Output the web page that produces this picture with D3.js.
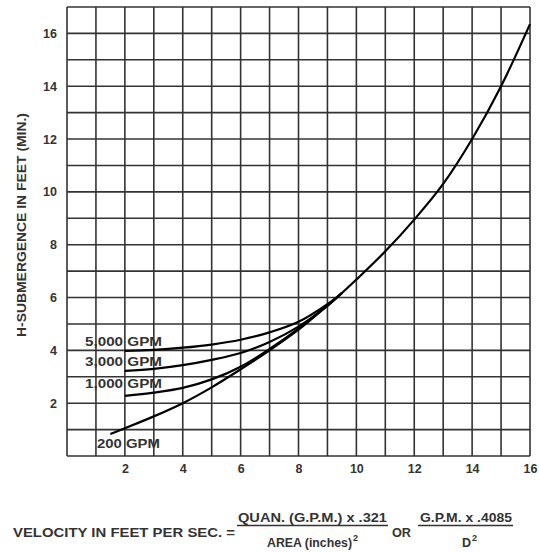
<!DOCTYPE html>
<html><head><meta charset="utf-8">
<script src="https://cdn.jsdelivr.net/npm/d3@7"></script>
<style>
body{margin:0;background:#fff;}
text{font-family:"Liberation Sans",Arial,Helvetica,sans-serif;font-weight:bold;fill:#333;}
</style>
</head><body><svg id="c" width="539" height="552"></svg>
<script>
// ---- data ----
const xTickValues = [2,4,6,8,10,12,14,16];
const yTickValues = [2,4,6,8,10,12,14,16];
const seriesLabels = ["5,000 GPM","3,000 GPM","1,000 GPM","200 GPM"];
const gpm5000 = [[2,3.98],[3,4.02],[4,4.1],[5,4.22],[6,4.4],[7,4.68],[8,5.08],[9,5.75],[9.5,6.17]];
const gpm3000 = [[2,3.22],[3,3.3],[4,3.44],[5,3.64],[6,3.9],[7,4.32],[8,4.9],[9,5.68],[9.5,6.17]];
const gpm1000 = [[2,2.28],[3,2.4],[4,2.58],[5,2.9],[6,3.38],[7,4.05],[8,4.82],[9,5.7],[9.5,6.17]];
const gpm200  = [[1.5,0.83],[2,1.05],[3,1.5],[4,2.0],[5,2.6],[6,3.28],[7,4.0],[8,4.78],[9,5.7],[9.5,6.17],[10,6.68],[11,7.75],[12,8.95],[13,10.3],[14,12.0],[15,14.0],[16,16.35]];
const yTitle = "H-SUBMERGENCE IN FEET (MIN.)";
const formulaLead = "VELOCITY IN FEET PER SEC. =";
const frac1Num = "QUAN. (G.P.M.) x .321", frac1Den = "AREA (inches)";
const formulaOr = "OR";
const frac2Num = "G.P.M. x .4085", frac2Den = "D";

// ---- layout ----
const svg = d3.select("#c");
const x = d3.scaleLinear([0,16],[67,530]);
const y = d3.scaleLinear([0,17],[456,7]);
const gridColor = "#333";

// grid
const g = svg.append("g");
g.selectAll("line.v").data(d3.range(0,17)).join("line")
  .attr("x1",d=>x(d)).attr("x2",d=>x(d)).attr("y1",y(0)).attr("y2",y(17))
  .attr("stroke",gridColor).attr("stroke-width",1.6);
g.selectAll("line.h").data(d3.range(0,18)).join("line")
  .attr("y1",d=>y(d)).attr("y2",d=>y(d)).attr("x1",x(0)).attr("x2",x(16))
  .attr("stroke",gridColor).attr("stroke-width",1.6);

// axes (labels only)
const ax = svg.append("g").attr("transform",`translate(0,${y(0)})`)
  .call(d3.axisBottom(x).tickValues(xTickValues).tickSize(0).tickPadding(8).tickFormat(d3.format("d")));
const ay = svg.append("g").attr("transform",`translate(${x(0)},0)`)
  .call(d3.axisLeft(y).tickValues(yTickValues).tickSize(0).tickPadding(10).tickFormat(d3.format("d")));
[ax,ay].forEach(a=>{
  a.select(".domain").remove();
  a.selectAll("text").attr("font-size",12.5).attr("fill","#333")
    .attr("font-family",'"Liberation Sans",Arial,sans-serif').attr("font-weight","bold");
});

// curves
const line = d3.line().x(d=>x(d[0])).y(d=>y(d[1])).curve(d3.curveCatmullRom.alpha(0.5));
[gpm5000,gpm3000,gpm1000,gpm200].forEach(s=>{
  svg.append("path").attr("d",line(s)).attr("fill","none")
    .attr("stroke","#000").attr("stroke-width",2.2);
});

// curve labels
const labelPos = [[85,345.5],[85,366],[85,387.5],[97,447.5]];
const labelLen = [77,77,77,63];
seriesLabels.forEach((t,i)=>{
  svg.append("text").attr("x",labelPos[i][0]).attr("y",labelPos[i][1])
    .attr("font-size",12.5).attr("textLength",labelLen[i]).attr("lengthAdjust","spacingAndGlyphs").text(t);
});

// y title
svg.append("text").attr("transform","translate(26,225) rotate(-90)")
  .attr("text-anchor","middle").attr("font-size",12.5)
  .attr("textLength",224).attr("lengthAdjust","spacingAndGlyphs").text(yTitle);

// formula
const fs = 12.5;
svg.append("text").attr("x",13).attr("y",536.5).attr("font-size",fs)
  .attr("textLength",222).attr("lengthAdjust","spacingAndGlyphs").text(formulaLead);
svg.append("text").attr("x",238).attr("y",521.5).attr("font-size",fs)
  .attr("textLength",149).attr("lengthAdjust","spacingAndGlyphs").text(frac1Num);
svg.append("line").attr("x1",237).attr("x2",388).attr("y1",525.5).attr("y2",525.5)
  .attr("stroke","#333").attr("stroke-width",1.3);
svg.append("text").attr("x",267).attr("y",547).attr("font-size",fs)
  .attr("textLength",85).attr("lengthAdjust","spacingAndGlyphs").text(frac1Den);
svg.append("text").attr("x",353).attr("y",541).attr("font-size",9).text("2");
svg.append("text").attr("x",392).attr("y",536.5).attr("font-size",fs)
  .attr("textLength",19).attr("lengthAdjust","spacingAndGlyphs").text(formulaOr);
svg.append("text").attr("x",420).attr("y",521.5).attr("font-size",fs)
  .attr("textLength",92).attr("lengthAdjust","spacingAndGlyphs").text(frac2Num);
svg.append("line").attr("x1",418).attr("x2",513).attr("y1",525.5).attr("y2",525.5)
  .attr("stroke","#333").attr("stroke-width",1.3);
svg.append("text").attr("x",462).attr("y",547).attr("font-size",fs).text(frac2Den);
svg.append("text").attr("x",472).attr("y",541).attr("font-size",9).text("2");
</script>
</body></html>
